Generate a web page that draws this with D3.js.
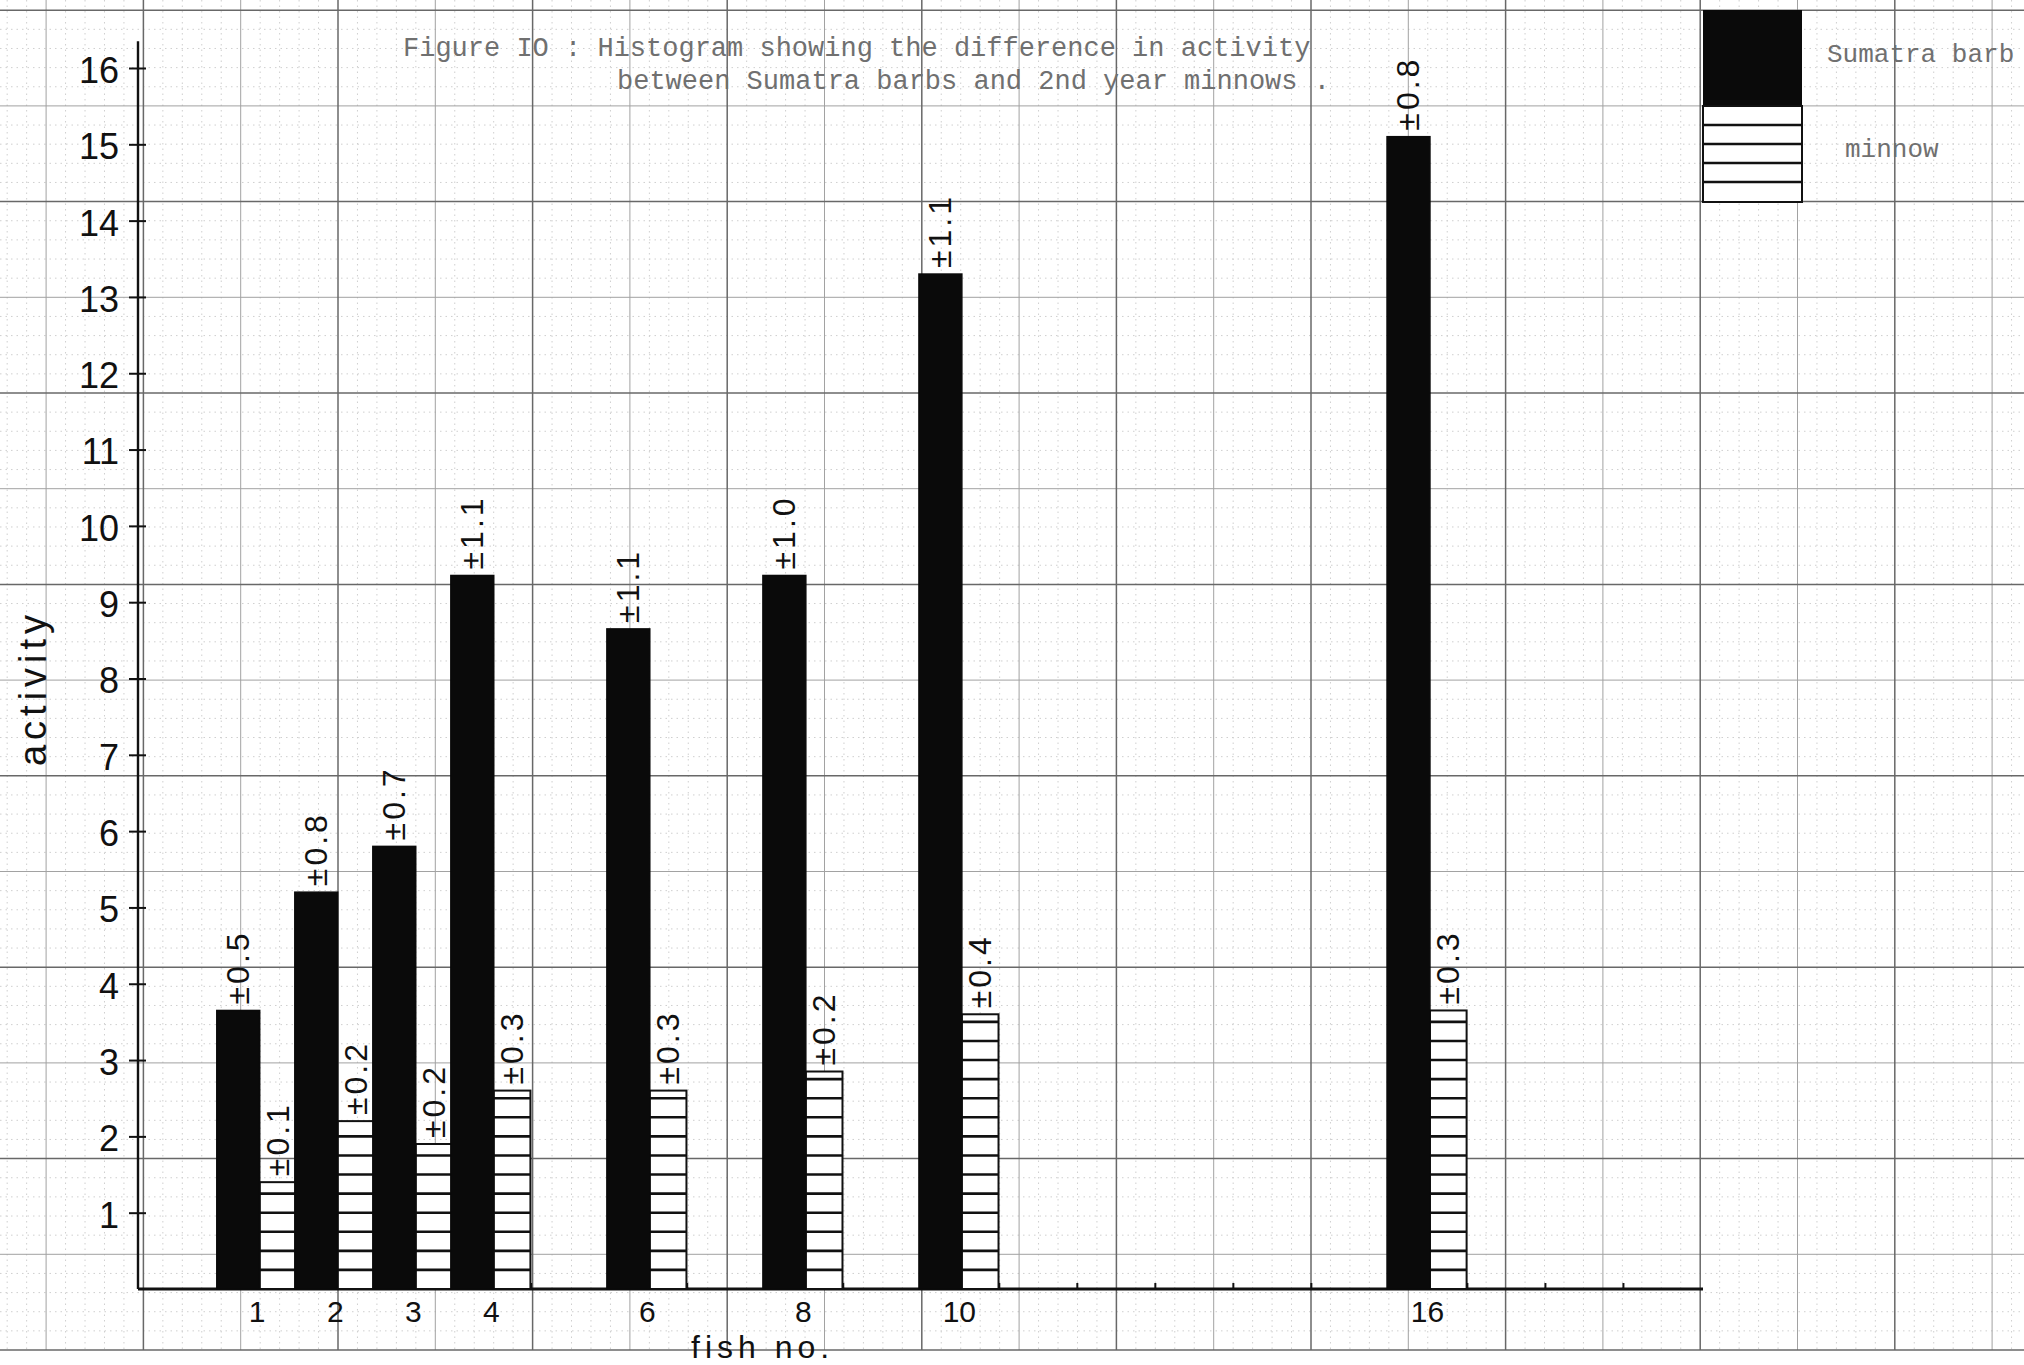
<!DOCTYPE html>
<html>
<head>
<meta charset="utf-8">
<script src="https://cdn.jsdelivr.net/npm/d3@7"></script>
<style>
  body { margin: 0; background: #fff; }
  svg { display: block; }
  .hand { font-family: "Liberation Sans", "DejaVu Sans", sans-serif; fill: #111; }
  .typed { font-family: "Liberation Mono", "DejaVu Sans Mono", monospace; fill: #707070; }
</style>
</head>
<body>
<svg id="chart" width="2024" height="1365"></svg>
<script>
// values
var fishNo = [1, 2, 3, 4, 6, 8, 10, 16];
var barbActivity = [3.65, 5.2, 5.8, 9.35, 8.65, 9.35, 13.3, 15.1];
var minnowActivity = [1.4, 2.2, 1.9, 2.6, 2.6, 2.85, 3.6, 3.65];
var barbError = ["±0.5", "±0.8", "±0.7", "±1.1", "±1.1", "±1.0", "±1.1", "±0.8"];
var minnowError = ["±0.1", "±0.2", "±0.2", "±0.3", "±0.3", "±0.2", "±0.4", "±0.3"];
var yTicks = [1, 2, 3, 4, 5, 6, 7, 8, 9, 10, 11, 12, 13, 14, 15, 16];
var legendLabels = ["Sumatra barb", "minnow"];
var titleLines = ["Figure IO : Histogram showing the difference in activity",
                  "between Sumatra barbs and 2nd year minnows ."];

var svg = d3.select("#chart");
var W = 2024, paperBottom = 1350;

var x = d3.scaleLinear().domain([-0.56, 19.5]).range([138, 1703]);
var y = d3.scaleLinear().domain([0, 16]).range([1289, 68]);

// ---- graph paper ----
function gridLines(origin, step, max) {
  var out = [], sub = step / 5;
  for (var i = Math.ceil(-origin / sub); origin + i * sub <= max; i++) {
    var m = ((i % 10) + 10) % 10;
    out.push({ pos: origin + i * sub, kind: m === 0 ? "major" : (m === 5 ? "medium" : "minor") });
  }
  return out;
}
var vLines = gridLines(338, 97.3, W);
var hLines = gridLines(393, 95.7, paperBottom);
var lineStyle = {
  minor: { c: "#cfcfcf", w: 1, d: "1.5,4" },
  medium: { c: "#a2a2a2", w: 1, d: null },
  major: { c: "#686868", w: 1.5, d: null }
};
var paper = svg.append("g").attr("class", "paper");
["minor", "medium", "major"].forEach(function (kind) {
  var s = lineStyle[kind];
  paper.selectAll(".v-" + kind)
    .data(vLines.filter(function (d) { return d.kind === kind; }))
    .enter().append("line")
    .attr("x1", function (d) { return d.pos; }).attr("x2", function (d) { return d.pos; })
    .attr("y1", 0).attr("y2", paperBottom)
    .attr("stroke", s.c).attr("stroke-width", s.w).attr("stroke-dasharray", s.d);
  paper.selectAll(".h-" + kind)
    .data(hLines.filter(function (d) { return d.kind === kind; }))
    .enter().append("line")
    .attr("y1", function (d) { return d.pos; }).attr("y2", function (d) { return d.pos; })
    .attr("x1", 0).attr("x2", W)
    .attr("stroke", s.c).attr("stroke-width", s.w).attr("stroke-dasharray", s.d);
});

// ---- title ----
svg.append("text").attr("class", "typed").attr("x", 403).attr("y", 56)
  .attr("font-size", 27).text(titleLines[0]);
svg.append("text").attr("class", "typed").attr("x", 617).attr("y", 89)
  .attr("font-size", 27).text(titleLines[1]);

// ---- axes ----
var yAxis = d3.axisLeft(y).tickValues(yTicks).tickSize(0).tickPadding(19).tickFormat(d3.format("d"));
var gy = svg.append("g").attr("transform", "translate(" + x.range()[0] + ",0)").call(yAxis);
gy.select(".domain").remove();
gy.selectAll(".tick text").attr("class", "hand").attr("font-size", 36).attr("dy", "0.4em").attr("fill", "#111");
gy.selectAll(".tick").append("line")
  .attr("x1", -9).attr("x2", 8).attr("stroke", "#111").attr("stroke-width", 2);
gy.append("line").attr("x1", 0).attr("x2", 0).attr("y1", y(16.35)).attr("y2", y(0))
  .attr("stroke", "#111").attr("stroke-width", 2.4);

var xAxis = d3.axisBottom(x).tickValues(fishNo).tickSize(0).tickPadding(12).tickFormat(d3.format("d"));
var gx = svg.append("g").attr("transform", "translate(0," + y(0) + ")").call(xAxis);
gx.select(".domain").remove();
gx.selectAll(".tick text").attr("class", "hand").attr("font-size", 30).attr("dx", -3).attr("fill", "#111");
gx.append("line").attr("x1", x.range()[0]).attr("x2", x.range()[1]).attr("y1", 0).attr("y2", 0)
  .attr("stroke", "#111").attr("stroke-width", 3);
gx.selectAll(".minor-tick").data(d3.range(1, 20)).enter().append("line")
  .attr("x1", function (k) { return x(k - 0.52); }).attr("x2", function (k) { return x(k - 0.52); })
  .attr("y1", 0).attr("y2", -6).attr("stroke", "#111").attr("stroke-width", 2);

svg.append("text").attr("class", "hand")
  .attr("transform", "translate(46,688) rotate(-90)")
  .attr("text-anchor", "middle").attr("font-size", 38).attr("letter-spacing", 5)
  .text("activity");
svg.append("text").attr("class", "hand").attr("x", 691).attr("y", 1358)
  .attr("font-size", 32).attr("letter-spacing", 5).text("fish no.");

// ---- bars ----
var rows = fishNo.map(function (n, i) {
  return { n: n, barb: barbActivity[i], minnow: minnowActivity[i], be: barbError[i], me: minnowError[i] };
});
var barbW = 0.55, minnowW = 0.47;

var plot = svg.append("g");
var minnowG = plot.selectAll(".minnow").data(rows).enter().append("g").attr("class", "minnow");
minnowG.append("rect")
  .attr("x", function (d) { return x(d.n); })
  .attr("y", function (d) { return y(d.minnow); })
  .attr("width", function (d) { return x(d.n + minnowW) - x(d.n); })
  .attr("height", function (d) { return y(0) - y(d.minnow); })
  .attr("fill", "#fff").attr("stroke", "#111").attr("stroke-width", 2);
minnowG.selectAll(".stripe")
  .data(function (d) {
    return d3.range(0.25, d.minnow - 0.08, 0.25).map(function (v) { return { n: d.n, v: v }; });
  })
  .enter().append("line")
  .attr("x1", function (d) { return x(d.n); })
  .attr("x2", function (d) { return x(d.n + minnowW); })
  .attr("y1", function (d) { return y(d.v); }).attr("y2", function (d) { return y(d.v); })
  .attr("stroke", "#111").attr("stroke-width", 2.6);

plot.selectAll(".barb").data(rows).enter().append("rect")
  .attr("class", "barb")
  .attr("x", function (d) { return x(d.n - barbW); })
  .attr("y", function (d) { return y(d.barb); })
  .attr("width", function (d) { return x(d.n) - x(d.n - barbW); })
  .attr("height", function (d) { return y(0) - y(d.barb); })
  .attr("fill", "#0a0a0a").attr("stroke", "#0a0a0a").attr("stroke-width", 1.5);

// ± labels written vertically above each bar
plot.selectAll(".barb-err").data(rows).enter().append("text")
  .attr("class", "hand")
  .attr("transform", function (d) {
    return "translate(" + x(d.n - barbW / 2) + "," + (y(d.barb) - 6) + ") rotate(-90)";
  })
  .attr("dominant-baseline", "central").attr("font-size", 32).attr("letter-spacing", 3)
  .text(function (d) { return d.be; });
plot.selectAll(".minnow-err").data(rows).enter().append("text")
  .attr("class", "hand")
  .attr("transform", function (d) {
    return "translate(" + x(d.n + minnowW / 2) + "," + (y(d.minnow) - 6) + ") rotate(-90)";
  })
  .attr("dominant-baseline", "central").attr("font-size", 32).attr("letter-spacing", 3)
  .text(function (d) { return d.me; });

// ---- legend ----
var lg = svg.append("g");
lg.append("rect").attr("x", 1703).attr("y", 10).attr("width", 99).attr("height", 96)
  .attr("fill", "#0a0a0a");
lg.append("rect").attr("x", 1703).attr("y", 106).attr("width", 99).attr("height", 96)
  .attr("fill", "#fff").attr("stroke", "#111").attr("stroke-width", 2);
lg.selectAll(".lg-stripe").data(d3.range(1, 5)).enter().append("line")
  .attr("x1", 1703).attr("x2", 1802)
  .attr("y1", function (k) { return 106 + k * 19; }).attr("y2", function (k) { return 106 + k * 19; })
  .attr("stroke", "#111").attr("stroke-width", 2.4);
lg.selectAll(".lg-text").data(legendLabels).enter().append("text")
  .attr("class", "typed").attr("font-size", 26)
  .attr("x", function (d, i) { return i === 0 ? 1827 : 1845; })
  .attr("y", function (d, i) { return i === 0 ? 62 : 157; })
  .text(function (d) { return d; });
</script>
</body>
</html>
